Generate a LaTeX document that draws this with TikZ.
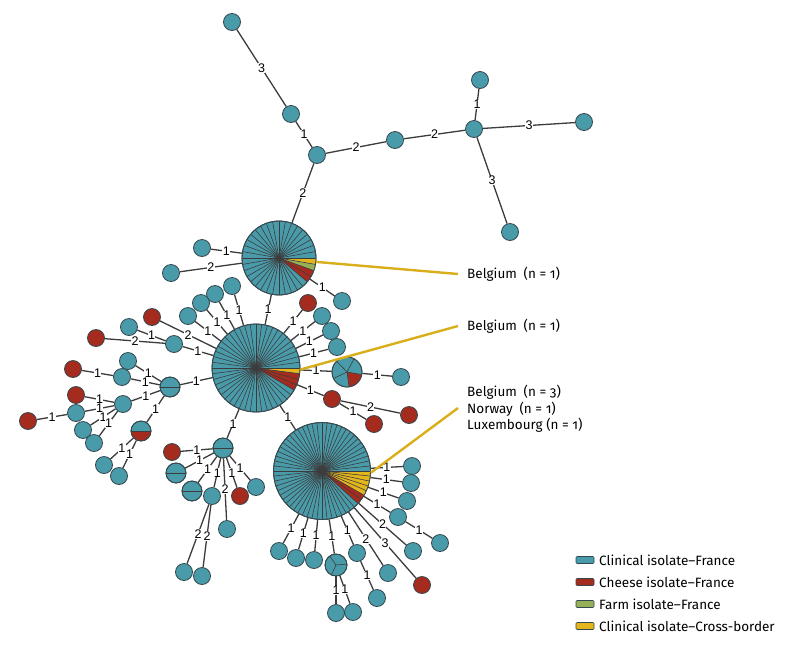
\documentclass[tikz,border=0pt]{standalone}
\usepackage{fontspec}
\setmainfont{Fira Sans}[Numbers=OldStyle]
\newfontfamily\edgefont{Liberation Sans}
\usetikzlibrary{backgrounds}

\newcommand{\pieslices}[4][0]{%
  \foreach \k in {1,...,#4} \draw[slice] (#2.center) -- ++({#1+\k*(360/#4)}:#3);%
  \draw[rim] (#2.center) circle[radius=#3];}
\newcommand{\piewedge}[5]{%
  \fill[#5] (#1.center) -- ++(#3:#2) arc[start angle=#3, end angle=#4, radius=#2] -- cycle;}

\begin{document}
\begin{tikzpicture}[x=1pt, y=-1pt,
  iso/.style={circle, draw=nodeline, line width=0.8pt, fill=clin, minimum size=17pt, inner sep=0pt},
  chz/.style={iso, fill=cheese},
  link/.style={draw=edgec, line width=1.3pt},
  lab/.style={font=\edgefont\fontsize{12.5}{12.5}\selectfont, fill=white, inner sep=0.4pt},
  slice/.style={draw=edgec, line width=0.6pt},
  rim/.style={draw=nodeline, line width=0.8pt},
  leader/.style={draw=leaderc, line width=2.4pt},
  note/.style={anchor=west, font=\fontsize{13.5}{16.5}\selectfont, inner sep=0pt, align=left}]
\definecolor{clin}{HTML}{4A9BAA}
\definecolor{cheese}{HTML}{A62B1F}
\definecolor{farm}{HTML}{96B05A}
\definecolor{xborder}{HTML}{E3B61E}
\definecolor{leaderc}{HTML}{D9AE1B}
\definecolor{edgec}{HTML}{3C3C3C}
\definecolor{nodeline}{HTML}{34484E}
\useasboundingbox (0,0) rectangle (800,654);

\node[iso] (t1) at (232,22) {};
\node[iso] (t2) at (291,114) {};
\node[iso] (t3) at (317,155) {};
\node[iso] (t4) at (395,140) {};
\node[iso] (t5) at (474,129) {};
\node[iso] (t6) at (480,80) {};
\node[iso] (t7) at (584,122) {};
\node[iso] (t8) at (510,232) {};

\node[iso, minimum size=74pt] (A) at (279,258) {};
\node[iso] (a1) at (202,248) {};
\node[iso] (a2) at (171,273) {};
\node[iso] (a3) at (342,301) {};

\node[iso, minimum size=88pt] (B) at (256,368) {};
\node[chz] (b1) at (308,303) {};
\node[iso] (b2) at (322,316) {};
\node[iso] (b3) at (331,331) {};
\node[iso] (b4) at (337,347) {};
\node[iso, minimum size=30pt] (D) at (347,372) {};
\node[iso] (d1) at (401,377) {};
\node[chz] (b5) at (332,399) {};
\node[chz] (b6) at (409,415) {};
\node[chz] (b7) at (374,424) {};
\node[iso] (b8) at (232,286) {};
\node[iso] (b9) at (215,294) {};
\node[iso] (b10) at (201,303) {};
\node[iso] (b11) at (188,316) {};
\node[iso] (b12) at (174,344) {};
\node[iso] (b13) at (129,327) {};
\node[chz] (b14) at (96,338) {};
\node[chz] (b15) at (152,317) {};

\node[iso, minimum size=20pt] (E) at (170,387) {};
\node[iso] (e1) at (128,361) {};
\node[iso] (e2) at (122,377) {};
\node[chz] (e3) at (73,369) {};
\node[iso] (h0) at (123,404) {};
\node[chz] (h1) at (76,395) {};
\node[iso] (h2) at (76,413) {};
\node[iso] (h3) at (83,430) {};
\node[iso] (h4) at (94,443) {};
\node[chz] (h5) at (28,421) {};
\node[iso, minimum size=20pt] (F) at (141,431) {};
\node[iso] (f1) at (104,465) {};
\node[iso] (f2) at (119,476) {};

\node[iso, minimum size=20pt] (G) at (223,448) {};
\node[chz] (g1) at (172,452) {};
\node[iso, minimum size=20pt] (H) at (176,473) {};
\node[iso, minimum size=20pt] (I) at (192,491) {};
\node[iso] (g2) at (212,496) {};
\node[iso] (g3) at (184,572) {};
\node[iso] (g4) at (202,576) {};
\node[iso] (g5) at (227,529) {};
\node[chz] (g6) at (240,496) {};
\node[iso] (g7) at (256,487) {};

\node[iso, minimum size=97pt] (C) at (322,471) {};
\node[iso] (c1) at (412,466) {};
\node[iso] (c2) at (411,483) {};
\node[iso] (c3) at (407,501) {};
\node[iso] (c4) at (398,517) {};
\node[iso] (c5) at (440,543) {};
\node[iso] (c6) at (413,551) {};
\node[chz] (c7) at (422,585) {};
\node[iso] (c8) at (388,573) {};
\node[iso] (c9) at (357,553) {};
\node[iso] (c10) at (377,598) {};
\node[iso] (c11) at (279,551) {};
\node[iso] (c12) at (296,558) {};
\node[iso] (c13) at (314,560) {};
\node[iso, minimum size=22pt] (J) at (336,565) {};
\node[iso] (j1) at (336,613) {};
\node[iso] (j2) at (353,612) {};

\begin{scope}[on background layer]
\draw[link] (t1) -- node[lab]{3} (t2);
\draw[link] (t2) -- node[lab]{1} (t3);
\draw[link] (t3) -- node[lab]{2} (t4);
\draw[link] (t4) -- node[lab]{2} (t5);
\draw[link] (t5) -- node[lab]{1} (t6);
\draw[link] (t5) -- node[lab]{3} (t7);
\draw[link] (t5) -- node[lab]{3} (t8);
\draw[link] (t3) -- node[lab]{2} (A);
\draw[link] (A) -- node[lab]{1} (a1);
\draw[link] (A) -- node[lab]{2} (a2);
\draw[link] (A) -- node[lab]{1} (a3);
\draw[link] (A) -- node[lab]{1} (B);
\draw[link] (B) -- node[lab]{1} (b1);
\draw[link] (B) -- node[lab]{1} (b2);
\draw[link] (B) -- node[lab]{1} (b3);
\draw[link] (B) -- node[lab]{1} (b4);
\draw[link] (B) -- node[lab]{1} (D);
\draw[link] (D) -- node[lab]{1} (d1);
\draw[link] (B) -- node[lab]{1} (b5);
\draw[link] (b5) -- node[lab]{2} (b6);
\draw[link] (b5) -- node[lab]{1} (b7);
\draw[link] (B) -- node[lab]{1} (b8);
\draw[link] (B) -- node[lab]{1} (b9);
\draw[link] (B) -- node[lab]{1} (b10);
\draw[link] (B) -- node[lab]{1} (b11);
\draw[link] (B) -- node[lab]{1} (b12);
\draw[link] (b12) -- node[lab]{1} (b13);
\draw[link] (b12) -- node[lab]{2} (b14);
\draw[link] (B) -- node[lab]{2} (b15);
\draw[link] (B) -- node[lab]{1} (E);
\draw[link] (E) -- node[lab]{1} (e1);
\draw[link] (E) -- node[lab]{1} (e2);
\draw[link] (e2) -- node[lab]{1} (e3);
\draw[link] (E) -- node[lab]{1} (h0);
\draw[link] (h0) -- node[lab]{1} (h1);
\draw[link] (h0) -- node[lab]{1} (h2);
\draw[link] (h0) -- node[lab]{1} (h3);
\draw[link] (h0) -- node[lab]{1} (h4);
\draw[link] (h2) -- node[lab]{1} (h5);
\draw[link] (E) -- node[lab]{1} (F);
\draw[link] (F) -- node[lab]{1} (f1);
\draw[link] (F) -- node[lab]{1} (f2);
\draw[link] (B) -- node[lab]{1} (G);
\draw[link] (G) -- node[lab]{1} (g1);
\draw[link] (G) -- node[lab]{1} (H);
\draw[link] (G) -- node[lab]{1} (I);
\draw[link] (G) -- node[lab]{1} (g2);
\draw[link] (g2) -- node[lab]{2} (g3);
\draw[link] (g2) -- node[lab]{2} (g4);
\draw[link] (G) -- node[lab]{2} (g5);
\draw[link] (G) -- node[lab]{1} (g6);
\draw[link] (G) -- node[lab]{1} (g7);
\draw[link] (B) -- node[lab]{1} (C);
\draw[link] (C) -- node[lab]{1} (c1);
\draw[link] (C) -- node[lab]{1} (c2);
\draw[link] (C) -- node[lab]{1} (c3);
\draw[link] (C) -- node[lab]{1} (c4);
\draw[link] (c4) -- node[lab]{1} (c5);
\draw[link] (C) -- node[lab]{2} (c6);
\draw[link] (C) -- node[lab]{3} (c7);
\draw[link] (C) -- node[lab]{2} (c8);
\draw[link] (C) -- node[lab]{1} (c9);
\draw[link] (c9) -- node[lab]{1} (c10);
\draw[link] (C) -- node[lab]{1} (c11);
\draw[link] (C) -- node[lab]{1} (c12);
\draw[link] (C) -- node[lab]{1} (c13);
\draw[link] (C) -- node[lab]{1} (J);
\draw[link] (J) -- node[lab]{1} (j1);
\draw[link] (J) -- node[lab]{1} (j2);
\end{scope}

\piewedge{A}{37}{0}{10}{xborder}
\piewedge{A}{37}{10}{20}{farm}
\piewedge{A}{37}{20}{40}{cheese}
\pieslices{A}{37}{36}
\piewedge{B}{44}{0}{7.5}{xborder}
\piewedge{B}{44}{7.5}{30}{cheese}
\pieslices{B}{44}{48}
\piewedge{C}{48.5}{0}{30}{xborder}
\piewedge{C}{48.5}{30}{42}{cheese}
\pieslices{C}{48.5}{60}
\piewedge{D}{15}{10}{82}{cheese}
\pieslices[10]{D}{15}{5}
\pieslices{E}{10}{2}
\piewedge{F}{10}{0}{180}{cheese}
\pieslices{F}{10}{2}
\pieslices{G}{10}{2}
\pieslices{H}{10}{2}
\pieslices{I}{10}{2}
\pieslices[-5]{J}{11}{3}

\coordinate (endA) at (458,274);
\coordinate (endB) at (458,326);
\coordinate (endC) at (458,408);
\draw[leader] (A.-6) -- (endA);
\draw[leader] (B.-2) -- (endB);
\draw[leader] (C.-2) -- (endC);
\node[note] (noteA) at (467,274) {Belgium\enspace(n = 1)};
\node[note] (noteB) at (467,326) {Belgium\enspace(n = 1)};
\node[note] (noteC) at (467,409) {Belgium\enspace(n = 3)\\Norway\enspace(n = 1)\\Luxembourg (n = 1)};

\foreach \col/\txt [count=\i] in {clin/Clinical isolate–France, cheese/Cheese isolate–France, farm/Farm isolate–France, xborder/Clinical isolate–Cross-border}
{
  \draw[fill=\col, draw=nodeline, line width=0.6pt, rounded corners=1pt] (576,538+22*\i-3.5) rectangle (594,538+22*\i+3.5);
  \node[note] (leg\i) at (599,538+22*\i) {\txt};
}
\end{tikzpicture}
\end{document}
